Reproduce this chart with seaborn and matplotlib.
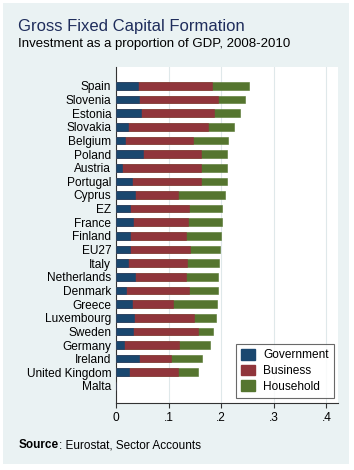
import numpy as np
import pandas as pd
import matplotlib
matplotlib.use("Agg")
import matplotlib.pyplot as plt
import matplotlib.patches as mpatches
import seaborn as sns

# Values (share of GDP)
countries = ["Spain", "Slovenia", "Estonia", "Slovakia", "Belgium", "Poland",
             "Austria", "Portugal", "Cyprus", "EZ", "France", "Finland", "EU27",
             "Italy", "Netherlands", "Denmark", "Greece", "Luxembourg", "Sweden",
             "Germany", "Ireland", "United Kingdom", "Malta"]
government = [0.041, 0.044, 0.047, 0.023, 0.016, 0.052, 0.011, 0.031, 0.036,
              0.026, 0.032, 0.026, 0.027, 0.022, 0.036, 0.018, 0.031, 0.034,
              0.033, 0.015, 0.043, 0.024, 0.0]
business = [0.1405, 0.149, 0.140, 0.152, 0.130, 0.109, 0.151, 0.130, 0.081,
            0.113, 0.105, 0.106, 0.113, 0.112, 0.096, 0.120, 0.077, 0.115,
            0.123, 0.104, 0.061, 0.093, 0.0]
household = [0.0705, 0.053, 0.049, 0.050, 0.066, 0.050, 0.048, 0.049, 0.090,
             0.063, 0.065, 0.067, 0.057, 0.062, 0.062, 0.056, 0.084, 0.041,
             0.029, 0.059, 0.060, 0.038, 0.0]
series = ["Government", "Business", "Household"]
colors = ["#1a476f", "#90353b", "#55752f"]
xticks = [0, 0.1, 0.2, 0.3, 0.4]
xticklabels = ["0", ".1", ".2", ".3", ".4"]

df = pd.DataFrame({"Country": countries, "Government": government,
                   "Business": business, "Household": household})
df["cum_gov"] = df["Government"]
df["cum_bus"] = df["Government"] + df["Business"]
df["cum_all"] = df["cum_bus"] + df["Household"]

plt.rcParams["font.family"] = ["Liberation Sans", "DejaVu Sans"]
fs = 8.6

fig = plt.figure(figsize=(3.54, 4.70), dpi=100, facecolor="white")
# light blue graph region
fig.patches.append(mpatches.Rectangle((3 / 354, 6 / 470), 346 / 354, 461 / 470,
                                      transform=fig.transFigure, facecolor="#eaf2f3",
                                      edgecolor="none", zorder=-10))
ax = fig.add_axes([0.328, 0.1426, 0.627, 0.7144])
ax.set_zorder(1)
ax.set_facecolor("white")

# stacked bars drawn as cumulative totals, largest first
for col, c in zip(["cum_all", "cum_bus", "cum_gov"], colors[::-1]):
    sns.barplot(data=df, x=col, y="Country", orient="h", color=c, width=0.56,
                saturation=1, edgecolor=c, linewidth=0.4, ax=ax, zorder=3)

ax.set_xlim(0, 0.422)
ax.set_ylim(len(countries) - 1 + 1.25, -1.37)
ax.set_xticks(xticks)
ax.set_xticklabels(xticklabels, fontsize=fs)
ax.tick_params(axis="x", length=3.5, width=0.8, color="#333333", pad=3)
ax.tick_params(axis="y", length=0, labelsize=fs, pad=3.5)
ax.set_xlabel("")
ax.set_ylabel("")
ax.xaxis.grid(True, color="#dfe8ea", linewidth=0.8, zorder=0)
ax.set_axisbelow(True)
for s in ["top", "right"]:
    ax.spines[s].set_visible(False)
for s in ["left", "bottom"]:
    ax.spines[s].set_color("#333333")
    ax.spines[s].set_linewidth(0.8)

handles = [mpatches.Patch(facecolor=c, edgecolor=c, label=s) for s, c in zip(series, colors)]
leg = ax.legend(handles=handles, loc="lower right", bbox_to_anchor=(0.982, 0.015),
                fontsize=fs, frameon=True, fancybox=False, handlelength=1.18,
                handleheight=1.0, handletextpad=0.67, labelspacing=0.28,
                borderpad=0.42, borderaxespad=0)
leg.get_frame().set_edgecolor("#444444")
leg.get_frame().set_linewidth(0.8)

fig.text(18 / 354, 1 - 31 / 470, "Gross Fixed Capital Formation", fontsize=12,
         color="#1f2d5c")
fig.text(18 / 354, 1 - 47 / 470, "Investment as a proportion of GDP, 2008-2010",
         fontsize=9.5, color="black")
src = fig.text(19 / 354, 1 - 448 / 470, "Source", fontsize=8.5, fontweight="bold",
               color="black")
fig.canvas.draw()
bb = src.get_window_extent()
fig.text(bb.x1 / fig.bbox.width, 1 - 448 / 470, ": Eurostat, Sector Accounts",
         fontsize=8.5, color="black")

fig.savefig("out.png", dpi=100, facecolor="white")
